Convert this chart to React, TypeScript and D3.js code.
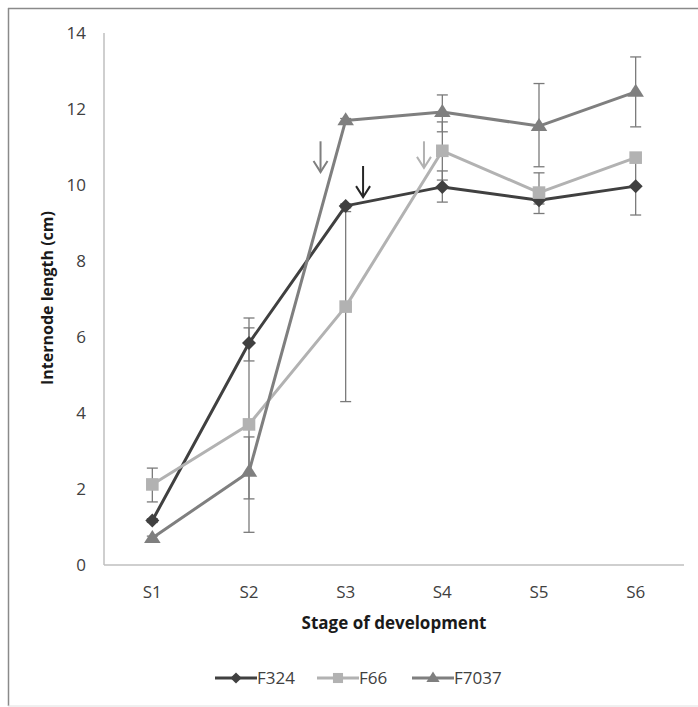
import React from "react";
import * as d3 from "d3";

const stages = ["S1", "S2", "S3", "S4", "S5", "S6"];
const yTicks = [0, 2, 4, 6, 8, 10, 12, 14];

const seriesNames = ["F324", "F66", "F7037"];
const f324Values = [1.17, 5.84, 9.45, 9.95, 9.6, 9.97];
const f66Values = [2.12, 3.7, 6.8, 10.9, 9.8, 10.72];
const f7037Values = [0.71, 2.45, 11.7, 11.92, 11.55, 12.45];

const f324ErrPlus = [0.05, 0.4, 0.05, 0.42, 0.1, 0.76];
const f324ErrMinus = [0.05, 0.47, 0.05, 0.4, 0.1, 0.76];
const f66ErrPlus = [0.43, 2.8, 2.5, 0.76, 0.52, 0.1];
const f66ErrMinus = [0.46, 2.84, 2.5, 0.77, 0.55, 0.1];
const f7037ErrPlus = [0.05, 0.92, 0.05, 0.45, 1.12, 0.92];
const f7037ErrMinus = [0.05, 0.71, 0.05, 0.52, 1.07, 0.92];

const seriesColors = ["#404040", "#b2b2b2", "#7f7f7f"];
const markerTypes = ["diamond", "square", "triangle"];

// arrow annotations: stage, offset as fraction of band, top and bottom value
const arrowStages = ["S3", "S3", "S4"];
const arrowOffsets = [-0.26, 0.18, -0.19];
const arrowTops = [11.15, 10.5, 11.15];
const arrowBottoms = [10.34, 9.68, 10.45];
const arrowColors = ["#7f7f7f", "#262626", "#b2b2b2"];

const W = 698;
const H = 707;
const left = 104;
const right = 684;
const top = 33;
const bottom = 565;
const FONT = "'Open Sans', 'DejaVu Sans', sans-serif";

function markerPath(type: string, r: number) {
  if (type === "diamond") {
    return `M0,${-r}L${r},0L0,${r}L${-r},0Z`;
  }
  if (type === "square") {
    return `M${-r},${-r}H${r}V${r}H${-r}Z`;
  }
  const h = r * 1.8;
  return `M0,${-h * 0.62}L${r * 1.15},${h * 0.38}L${-r * 1.15},${h * 0.38}Z`;
}

export default function App() {
  const x = d3.scaleBand<string>().domain(stages).range([left, right]);
  const cx = (s: string) => (x(s) as number) + x.bandwidth() / 2;
  const y = d3.scaleLinear().domain([0, 14]).range([bottom, top]);

  const values = [f324Values, f66Values, f7037Values];
  const plus = [f324ErrPlus, f66ErrPlus, f7037ErrPlus];
  const minus = [f324ErrMinus, f66ErrMinus, f7037ErrMinus];
  const line = d3
    .line<number>()
    .x((_, i) => cx(stages[i]))
    .y((d) => y(d));
  const markerR = [7, 6.3, 7.2];

  const legendX = [215, 317, 412];

  return (
    <svg
      width={W}
      height={H}
      style={{ position: "absolute", left: 0, top: 0, background: "#fff" }}
      fontFamily={FONT}
    >
      <rect x={0} y={0} width={W} height={H} fill="#fff" />
      {/* frame */}
      <line x1={8} y1={8.5} x2={W} y2={8.5} stroke="#8a8a8a" strokeWidth={1.5} />
      <line x1={8.5} y1={8} x2={8.5} y2={706} stroke="#8a8a8a" strokeWidth={1.5} />
      <line x1={8} y1={706} x2={W} y2={706} stroke="#e0e0e0" strokeWidth={1} />

      {/* axes */}
      <line x1={left} y1={top} x2={left} y2={bottom} stroke="#bfbfbf" strokeWidth={1.5} />
      <line x1={left} y1={bottom} x2={right} y2={bottom} stroke="#bfbfbf" strokeWidth={1.5} />

      {yTicks.map((t) => (
        <text
          key={t}
          x={86}
          y={y(t)}
          dy="0.35em"
          textAnchor="end"
          fontSize={17}
          fill="#404040"
        >
          {t}
        </text>
      ))}
      {stages.map((s) => (
        <text key={s} x={cx(s)} y={592} dy="0.35em" textAnchor="middle" fontSize={17} fill="#404040">
          {s}
        </text>
      ))}

      <text
        x={(left + right) / 2}
        y={623}
        dy="0.35em"
        textAnchor="middle"
        fontSize={17}
        fontWeight="bold"
        fill="#1a1a1a"
      >
        Stage of development
      </text>
      <text
        transform={`translate(47, 298) rotate(-90)`}
        dy="0.35em"
        textAnchor="middle"
        fontSize={16}
        fontWeight="bold"
        fill="#1a1a1a"
      >
        Internode length (cm)
      </text>

      {/* error bars */}
      {values.map((vals, si) =>
        vals.map((v, i) => {
          const xc = cx(stages[i]);
          const hi = y(v + plus[si][i]);
          const lo = y(v - minus[si][i]);
          return (
            <g key={`e${si}-${i}`} stroke="#7a7a7a" strokeWidth={1.3}>
              <line x1={xc} x2={xc} y1={hi} y2={lo} />
              <line x1={xc - 5.5} x2={xc + 5.5} y1={hi} y2={hi} />
              <line x1={xc - 5.5} x2={xc + 5.5} y1={lo} y2={lo} />
            </g>
          );
        })
      )}

      {/* lines */}
      {values.map((vals, si) => (
        <path
          key={`l${si}`}
          d={line(vals) as string}
          fill="none"
          stroke={seriesColors[si]}
          strokeWidth={3}
          strokeLinejoin="round"
        />
      ))}

      {/* markers */}
      {values.map((vals, si) =>
        vals.map((v, i) => (
          <path
            key={`m${si}-${i}`}
            d={markerPath(markerTypes[si], markerR[si])}
            transform={`translate(${cx(stages[i])}, ${y(v)})`}
            fill={seriesColors[si]}
          />
        ))
      )}

      {/* arrows */}
      {arrowStages.map((s, i) => {
        const ax = cx(s) + arrowOffsets[i] * x.bandwidth();
        const y1 = y(arrowTops[i]);
        const y2 = y(arrowBottoms[i]);
        return (
          <g key={`a${i}`} stroke={arrowColors[i]} strokeWidth={2} fill="none">
            <line x1={ax} x2={ax} y1={y1} y2={y2} />
            <path d={`M${ax - 7},${y2 - 11} L${ax},${y2} L${ax + 7},${y2 - 11}`} />
          </g>
        );
      })}

      {/* legend */}
      {seriesNames.map((n, i) => {
        const lx = legendX[i];
        const ly = 678;
        return (
          <g key={n}>
            <line x1={lx} x2={lx + 42} y1={ly} y2={ly} stroke={seriesColors[i]} strokeWidth={3} />
            <path
              d={markerPath(markerTypes[i], markerR[i] * 0.8)}
              transform={`translate(${lx + 21}, ${ly})`}
              fill={seriesColors[i]}
            />
            <text x={lx + 42} y={ly} dy="0.35em" fontSize={17} fill="#404040">
              {n}
            </text>
          </g>
        );
      })}
    </svg>
  );
}
